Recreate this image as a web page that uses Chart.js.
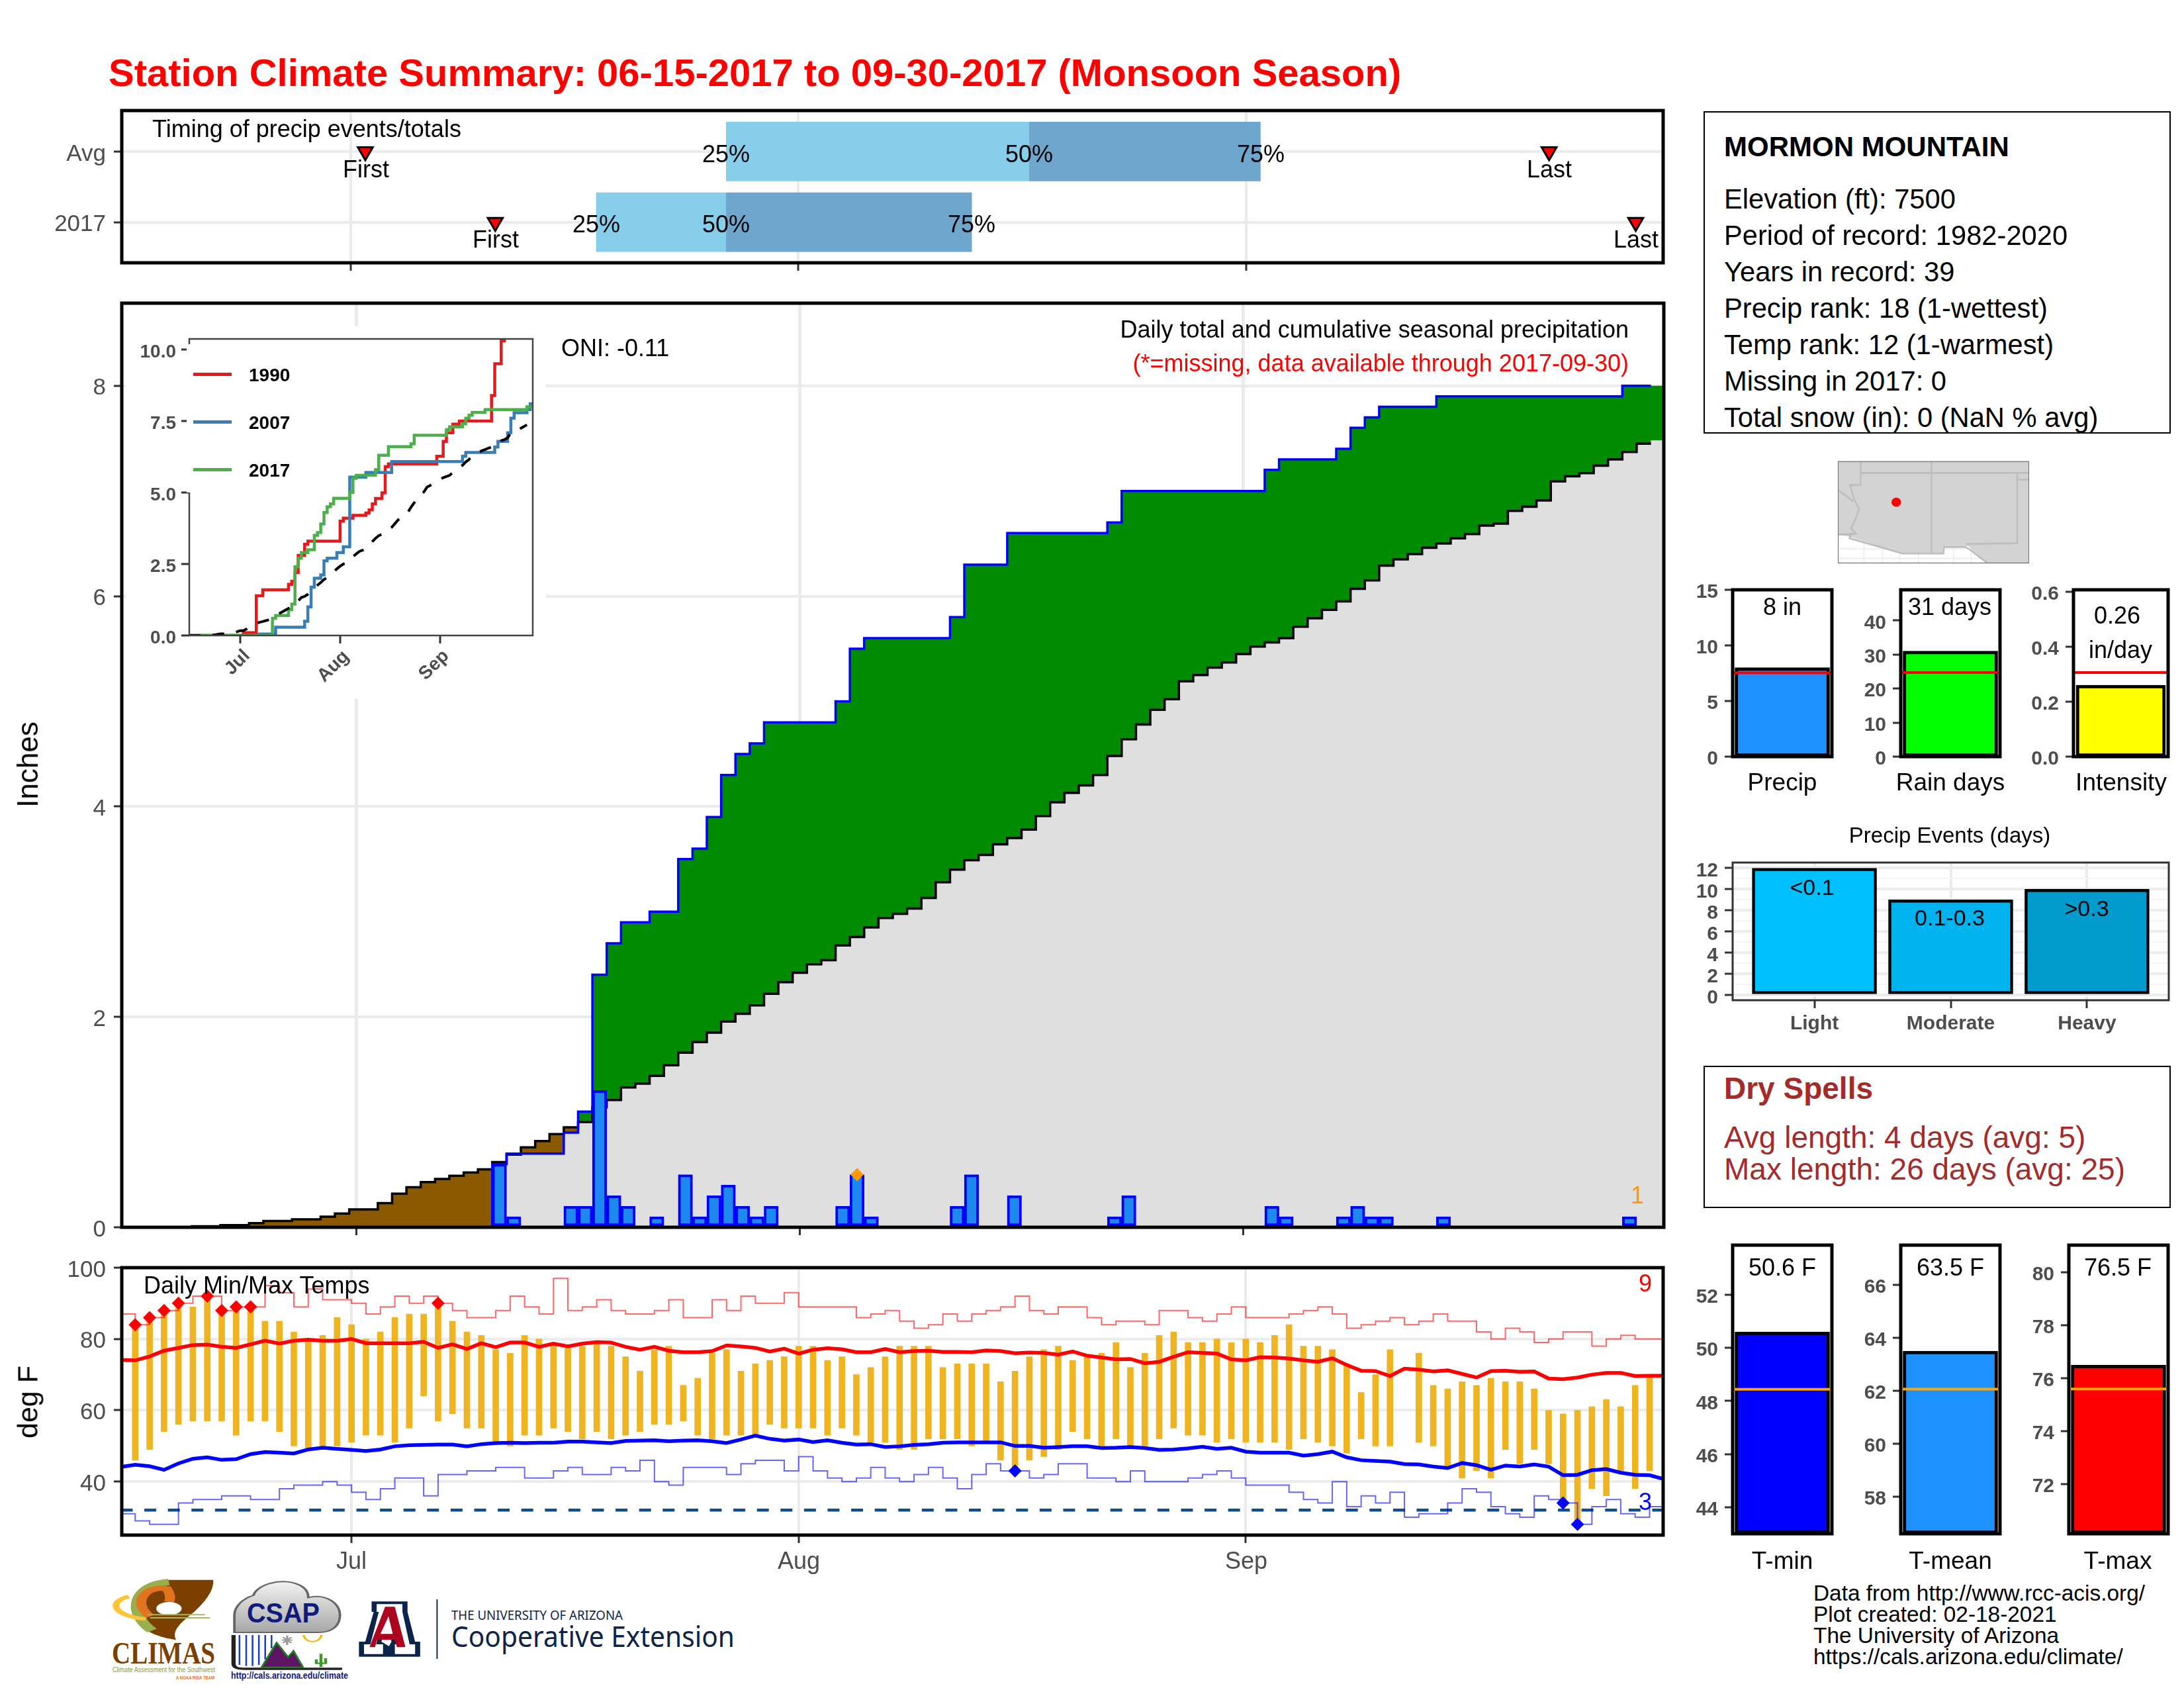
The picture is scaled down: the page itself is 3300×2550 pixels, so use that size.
<!DOCTYPE html>
<html>
<head>
<meta charset="utf-8">
<title>Station Climate Summary</title>
<script src="https://cdn.jsdelivr.net/npm/chart.js@4/dist/chart.umd.js"></script>
<style>
  html, body { margin: 0; background: #fff; width: 3300px; height: 2550px; overflow: hidden; }
  body { position: relative; font-family: 'Liberation Sans', sans-serif; }
  canvas, .txt, .box { position: absolute; }
  .txt { white-space: nowrap; line-height: 1; }
</style>
</head>
<body>
<svg width="3300" height="2550" style="position:absolute;left:0;top:0">
  <defs>
    <linearGradient id="cloud" x1="0" y1="0" x2="0" y2="1"><stop offset="0" stop-color="#f2f2f2"/><stop offset="1" stop-color="#a8a8a8"/></linearGradient>
  </defs>
  <!-- locator map -->
  <g transform="translate(2540,680) scale(.4847,.574)" fill="none" stroke="#bebebe" stroke-width="5" vector-effect="non-scaling-stroke">
    <rect x="490" y="30" width="594" height="267" fill="#fff" stroke="none"/>
    <path d="M490 260H1084M490 285H1084M570 225V297M628 225V297M682 225V297M740 225V297M850 250V297M905 260V297" stroke="#ececec" stroke-width="3"/>
    <path d="M490 30H1084V297H955L930 285L895 252L820 255V272H690L525 228L490 222Z" fill="#d3d3d3" stroke="none"/>
    <path d="M490 222H530L525 232L690 272H818L820 255H888L905 265L955 297"/>
    <path d="M560 30V92H527L540 130L555 155L545 180L530 205L545 220L490 222M490 105L537 135M560 60H1084M781 30V272M1048 60V245L888 247M1048 78H1084"/>
    <rect x="490" y="30" width="594" height="267" stroke="#666" stroke-width="2"/>
    <ellipse cx="671" cy="137" rx="15" ry="12" fill="#f00" stroke="none"/>
  </g>
  <!-- logos -->
  <g transform="translate(150,2340) scale(.638,.3333)">
    <path d="M150 140H270C272 190 250 240 225 285C195 330 170 370 182 412C140 400 100 370 88 320C70 240 95 170 150 140Z" fill="#7b3f00"/>
    <path d="M125 370C65 290 80 160 165 150" stroke="#9aae4e" stroke-width="28" fill="none"/>
    <path d="M120 305C75 240 110 165 160 180C170 210 168 230 165 240" stroke="#e2741f" stroke-width="24" fill="none"/>
    <ellipse cx="165" cy="270" rx="30" ry="30" fill="#fff"/>
    <path d="M70 215C20 240 30 300 110 318" stroke="#fdc533" stroke-width="16" fill="none"/>
    <path d="M115 298H250M120 312H262" stroke="#a6b85a" stroke-width="6" fill="none"/>
    <path d="M320 370V300C320 260 340 225 365 210C375 160 430 130 470 160C490 175 495 200 495 220C540 200 570 250 570 300C570 350 550 378 520 378H320Z" fill="url(#cloud)" stroke="#666" stroke-width="6"/>
    <path d="M332 390V525M348 390V530M363 390V530M378 390V525M393 390V500M408 390V450" stroke="#1a3fbf" stroke-width="4"/>
    <path d="M318 390V520C318 540 330 543 345 543H575" stroke="#222" stroke-width="10" fill="none"/>
    <path d="M385 535L420 425L447 490L460 462L482 535Z" fill="#5e1464" stroke="#1e7a1e" stroke-width="5"/>
    <path d="M484 390C488 430 522 430 526 390" stroke="#f5b915" stroke-width="6" fill="none"/>
    <path d="M445 392V435M432 413H458M435 400L455 426M455 400L435 426" stroke="#999" stroke-width="5"/>
    <path d="M525 475V535M514 500V518H536V495" stroke="#3b9a22" stroke-width="7" fill="none"/>
    <path d="M645 238H730V285L748 420H760V488H685V445L692 420L690 400H672L668 420L690 445V488H615V420H630L650 285H645Z" fill="#0c234b"/>
    <path d="M657 250H718V285L735 432H748V476H700V432H712L708 400H660L656 432H672V476H627V432H642L662 285H657Z" fill="#fff"/>
    <path d="M677 262H700L725 445H705L700 412H658L653 445H640ZM685 305L666 385H695Z" fill="#ab0520"/>
    <path d="M800 228V498" stroke="#0c234b" stroke-width="3"/>
  </g>
  <text x="169" y="2513" font-family="Liberation Serif" font-weight="bold" font-size="46" fill="#7b3f00" textLength="156" lengthAdjust="spacingAndGlyphs">CLIMAS</text>
  <text x="170" y="2526" font-family="Liberation Sans" font-size="10" fill="#8a9a4a" textLength="155" lengthAdjust="spacingAndGlyphs">Climate Assessment for the Southwest</text>
  <text x="266" y="2537" font-family="Liberation Sans" font-size="8" font-weight="bold" fill="#e2741f" textLength="58" lengthAdjust="spacingAndGlyphs">A NOAA RISA TEAM</text>
  <text x="373" y="2451" font-family="Liberation Sans" font-weight="bold" font-size="42" fill="#0f1a7a" textLength="110" lengthAdjust="spacingAndGlyphs">CSAP</text>
  <text x="349" y="2536" font-family="Liberation Sans" font-weight="bold" font-size="14" fill="#0f1a7a" textLength="177" lengthAdjust="spacingAndGlyphs">http://cals.arizona.edu/climate</text>
  <text x="682" y="2447" font-family="Noto Sans" font-size="19" fill="#0c234b" textLength="259" lengthAdjust="spacingAndGlyphs">THE UNIVERSITY OF ARIZONA</text>
  <text x="682" y="2488" font-family="Noto Sans" font-size="43" fill="#0c234b" textLength="428" lengthAdjust="spacingAndGlyphs">Cooperative Extension</text>
</svg>
<script>
// day 0 = Jun 15, day 107 = Sep 30
const monthTicks = [16, 47, 78];
const monthLabels = ['Jul', 'Aug', 'Sep'];

const precipDaily = [
  0,0,0,0,0,0,0,0,0,0,
  0,0,0,0,0,0,0,0,0,0,
  0,0,0,0,0,0,.6,.1,0,0,
  0,.2,.2,1.3,.3,.2,0,.1,0,.5,
  .1,.3,.4,.2,.1,.2,0,0,0,0,
  .2,.5,.1,0,0,0,0,0,.2,.5,
  0,0,.3,0,0,0,0,0,0,.1,
  .3,0,0,0,0,0,0,0,0,0,
  .2,.1,0,0,0,.1,.2,.1,.1,0,
  0,0,.1,0,0,0,0,0,0,0,
  0,0,0,0,0,.1,0,0];
const precipCum = [
  0,0,0,0,0,0,0,0,0,0,
  0,0,0,0,0,0,0,0,0,0,
  0,0,0,0,0,0,.6,.7,.7,.7,
  .7,.9,1.1,2.4,2.7,2.9,2.9,3,3,3.5,
  3.6,3.9,4.3,4.5,4.6,4.8,4.8,4.8,4.8,4.8,
  5,5.5,5.6,5.6,5.6,5.6,5.6,5.6,5.8,6.3,
  6.3,6.3,6.6,6.6,6.6,6.6,6.6,6.6,6.6,6.7,
  7,7,7,7,7,7,7,7,7,7,
  7.2,7.3,7.3,7.3,7.3,7.4,7.6,7.7,7.8,7.8,
  7.8,7.8,7.9,7.9,7.9,7.9,7.9,7.9,7.9,7.9,
  7.9,7.9,7.9,7.9,7.9,8,8,8];
const precipAvg = [
  0,0,0,0,0,.01,.01,.02,.02,.04,
  .06,.06,.075,.075,.1,.13,.17,.17,.23,.32,
  .38,.43,.46,.49,.52,.55,.62,.69,.76,.82,
  .885,.95,1,1.14,1.21,1.33,1.365,1.44,1.54,1.66,
  1.76,1.85,1.955,2.03,2.11,2.22,2.33,2.42,2.5,2.54,
  2.68,2.76,2.85,2.94,2.98,3.03,3.13,3.28,3.4,3.49,
  3.54,3.64,3.7,3.78,3.91,4.04,4.13,4.2,4.3,4.48,
  4.64,4.78,4.92,5.02,5.19,5.25,5.32,5.37,5.45,5.52,
  5.56,5.6,5.71,5.79,5.87,5.95,6.07,6.15,6.29,6.35,
  6.4,6.46,6.5,6.55,6.59,6.67,6.69,6.81,6.85,6.91,
  7.09,7.14,7.17,7.24,7.3,7.37,7.45,7.48];

const days1990 = [0,17,21,23,31,32,33,34,36,37,47,48,51,55,56,57,58,60,61,62,77,79,80,82,84,94,95,97,98,107];
const vals1990 = [0,.1,1.39,1.6,1.79,1.9,2.2,2.8,3.19,3.3,4,4.1,4.2,4.28,4.39,4.6,4.79,4.99,5.9,6,6.27,6.79,7.09,7.39,7.5,8.39,9.5,10.3,10.5,10.5];
const days2007 = [0,22,27,36,37,38,39,41,42,43,46,48,50,55,63,85,86,95,96,99,100,101,105,106,107];
const vals2007 = [0,.05,.29,.5,1,1.69,2,2.12,2.61,2.7,2.9,3.1,5.54,5.7,6.08,6.27,6.4,6.59,6.79,7.09,7.6,7.79,7.9,8.1,8.1];

const tempHigh = [
  null,84,86,88,90,89,92,88,89,89,
  85,85,82,80,81,86,84,80,82,86,
  87,87,90,85,82,81,77,76,81,80,
  79,78,78,79,78,75,71,77,78,67,
  69,76,77,71,73,74,75,78,78,74,
  75,70,72,75,78,78,78,72,73,73,
  73,68,71,75,77,78,74,75,76,79,
  72,76,81,82,79,79,80,79,80,79,
  81,84,78,78,77,73,65,70,77,null,
  76,67,66,68,67,69,68,68,66,60,
  59,60,61,63,61,67,70,null];
const tempLow = [
  null,46,49,54,56,57,57,57,53,57,
  57,54,50,49,50,50,51,53,53,51,
  55,64,57,59,55,55,51,50,53,53,
  55,54,52,54,52,53,54,56,56,57,
  53,52,53,53,53,56,55,55,55,53,
  55,53,51,51,49,49,52,52,52,50,
  51,46,43,46,47,49,54,52,50,52,
  50,50,52,55,53,53,51,52,51,51,
  51,49,52,51,50,48,52,50,50,null,
  51,50,44,41,43,41,49,45,49,45,
  34,28,38,36,43,38,43,null];
const recordHigh = [
  87,84,86,88,90,92,92,88,89,89,
  95,93,89,94,91,91,90,87,89,92,
  90,92,90,88,86,86,88,92,89,87,
  97,88,89,91,88,87,87,88,91,86,
  86,91,88,92,90,90,93,89,89,89,
  89,86,87,88,85,83,84,87,85,87,
  88,89,92,88,87,89,89,86,84,85,
  85,84,88,88,86,85,87,89,86,86,
  86,87,88,89,87,83,84,85,86,84,
  85,87,85,85,82,80,83,82,79,80,
  82,82,78,80,81,80,80,80];
const recordLow = [
  31,29,28,28,34,35,35,36,36,35,
  35,38,39,39,40,39,37,35,38,41,
  41,36,42,42,43,43,44,44,41,41,
  43,44,42,42,44,43,46,40,39,44,
  44,44,42,45,46,46,43,47,43,41,
  40,41,44,41,40,42,44,41,38,42,
  45,43,43,41,42,45,45,41,41,40,
  43,40,40,40,41,42,43,41,39,39,
  39,37,35,34,40,33,36,34,37,30,
  31,31,34,38,37,33,31,30,36,35,
  34,28,33,35,31,30,33,33];
const avgTmax = [
  74.1,74,75.1,76.7,77.5,78.3,78.4,77.8,77.5,78.5,
  79.5,78.7,79.5,79.8,79.5,79.5,80,78.8,78.8,78.8,
  78.8,79.2,77.5,78.5,77.2,78.8,77.7,79,79,77.8,
  78.7,77.9,78.7,79.1,79,77.8,77,77.8,76.7,76.3,
  76.3,76.6,78.2,77.9,77.5,76.5,77.3,75.9,77,77.4,
  77.1,76.3,76.3,77.2,76.3,76.6,76.7,76.4,76.4,76.3,
  76.8,76.6,76,76.2,76.1,75.6,76.5,75.3,74.8,74.3,
  74.4,73.2,73.6,75,76.3,76.1,75.9,74.3,74,74.9,
  74.8,74.5,74,73.6,74.6,72.7,71.1,71,69.6,71.7,
  71.4,70.9,71.2,70.2,69.2,71,71.1,70.8,70.9,68.9,
  68.7,69.2,70,70.5,70.5,69.6,69.7,69.7];
const avgTmin = [
  44.1,44.7,44.3,43.3,45.1,46.4,46.8,46.1,46.3,47.7,
  48.3,48.1,47.9,49,49.5,49.2,48.9,48.6,49,49.9,
  50.2,50.3,50.4,50.4,49.9,50.5,50.8,50.9,50.8,50.9,
  50.9,51.2,51.2,51,50.8,51.4,51.5,51.6,51.3,51.5,
  51.6,51.3,50.8,51.8,52.9,52,51.5,51.8,51.1,51.6,
  50.9,50.4,50.5,49.7,49.9,50.3,50.5,50.9,51,51,
  51,51,50,50,49.5,49.7,49.9,49.9,49.4,49.5,
  49.7,49.4,48.9,49,49.3,49.8,49.2,49.5,48.4,48.1,
  48.1,48.1,47.3,47.7,48.4,46.8,46,45.8,45.6,44.9,
  44.8,44.2,43.8,45.2,44.6,43.3,44.5,44.2,44.8,44.2,
  41.8,41.9,43.2,43.5,42.5,41.9,41.8,40.7];
const hotDays = [1,2,3,4,6,7,8,9,22];
const coldDays = [62,100,101];
const wettestDays = [51];

const timingRows = [2, 1];
const timingLabels = ['2017', 'Avg'];
const q25 = [42, 33];
const q50 = [63, 42];
const q75 = [79, 59];
const firstDay = [17, 26];
const lastDay = [99, 105];

const eventNames = ['Light', 'Moderate', 'Heavy'];
const eventDays = [12, 9, 10];

const GRID = '#ebebeb', TICK = '#333333', INK = '#4d4d4d';
Chart.defaults.font.family = "'Liberation Sans', sans-serif";
Chart.defaults.animation = false;

// panel frame drawn on top of the datasets
const frame = {
  id: 'frame',
  afterDraw(chart, args, opts) {
    const a = chart.chartArea, c = chart.ctx;
    c.save();
    c.strokeStyle = opts.color || '#000';
    c.lineWidth = opts.width || 5;
    c.strokeRect(a.left, a.top, a.right - a.left, a.bottom - a.top);
    c.restore();
  }
};

function txt(s, x, y, o = {}) {
  const d = document.createElement('div');
  d.className = 'txt';
  d.textContent = s;
  const shift = o.align === 'center' ? '-50%' : o.align === 'right' ? '-100%' : '0';
  d.style.cssText = `left:${x}px;top:${y}px;font-size:${o.size || 36}px;color:${o.color || '#000'};` +
    `font-weight:${o.bold ? 'bold' : 'normal'};transform:translate(${shift},-50%) rotate(${o.rotate || 0}deg);`;
  document.body.appendChild(d);
}

function rect(x, y, w, h, style) {
  const d = document.createElement('div');
  d.className = 'box';
  d.style.cssText = `left:${x}px;top:${y}px;width:${w}px;height:${h}px;${style}`;
  document.body.appendChild(d);
}

function axis(min, max, values, o = {}) {
  return {
    type: 'linear', min, max, offset: false,
    afterBuildTicks: s => { s.ticks = values.map(v => ({ value: v })); },
    grid: {
      offset: false,
      color: o.gridColor || GRID, lineWidth: o.gridWidth === undefined ? 4 : o.gridWidth,
      drawOnChartArea: o.gridWidth !== 0,
      tickColor: o.tickColor || TICK, tickWidth: 3, tickLength: 12
    },
    border: { display: false },
    ticks: {
      display: o.labels !== false, autoSkip: false, maxRotation: 0, padding: o.pad || 12,
      color: INK, font: { size: o.size || 35, weight: o.bold ? 'bold' : 'normal' },
      callback: o.fmt || (v => String(v))
    }
  };
}

// canvas placed so that the plot area lands exactly on L,T,R,B
function panel(L, T, R, B, gutterL, gutterB, xAxis, yAxis, datasets, frameOpts) {
  const pad = 36;
  const cv = document.createElement('canvas');
  cv.width = R - L + gutterL + pad;
  cv.height = B - T + gutterB + pad;
  cv.style.left = (L - gutterL) + 'px';
  cv.style.top = (T - pad) + 'px';
  document.body.appendChild(cv);
  xAxis.afterFit = s => { s.height = gutterB; };
  yAxis.afterFit = s => { s.width = gutterL; };
  yAxis.ticks.labelOffset = 4;
  return new Chart(cv, {
    type: 'line',
    data: { datasets },
    options: {
      responsive: false, devicePixelRatio: 1,
      layout: { padding: { top: pad, right: pad, left: 0, bottom: 0 } },
      scales: { x: xAxis, y: yAxis },
      elements: { point: { radius: 0 } },
      plugins: { legend: { display: false }, tooltip: { enabled: false }, frame: frameOpts || {} }
    },
    plugins: [frame]
  });
}

const pts = (ys, from = 0) => ys.map((y, i) => ({ x: i + from, y }));

// ---- timing strip
panel(184, 167, 2513, 397, 184, 40,
  axis(0.13, 106.9, monthTicks, { labels: false }),
  axis(0.425, 2.58, timingRows, { fmt: v => timingLabels[v - 1] }),
  [
    { type: 'scatter', data: timingRows.map((y, i) => ({ x: firstDay[i], y })), pointStyle: 'triangle', rotation: 180, radius: 13, backgroundColor: '#f00', borderColor: '#000', borderWidth: 3 },
    { type: 'scatter', data: timingRows.map((y, i) => ({ x: lastDay[i], y })), pointStyle: 'triangle', rotation: 180, radius: 13, backgroundColor: '#f00', borderColor: '#000', borderWidth: 3 },
    { type: 'bar', indexAxis: 'y', grouped: false, barThickness: 89, backgroundColor: '#6fa6cd', data: timingRows.map((y, i) => ({ x: [q50[i], q75[i]], y })) },
    { type: 'bar', indexAxis: 'y', grouped: false, barThickness: 89, backgroundColor: '#87ceeb', data: timingRows.map((y, i) => ({ x: [q25[i], q50[i]], y })) }
  ]);

// ---- cumulative precipitation
const fillEnd = (ys) => [{ x: -0.4, y: 0 }, ...pts(ys), { x: 107.4, y: ys[107] }];
const lineEnd = (ys) => [...pts(ys.slice(0, 107)), { x: 106.5, y: ys[106] }];
panel(184, 458, 2514, 1854, 184, 40,
  axis(-0.4, 107.4, monthTicks, { labels: false, gridWidth: 5 }),
  axis(0, 8.785, [0, 2, 4, 6, 8]),
  [
    { type: 'scatter', data: wettestDays.map(d => ({ x: d, y: precipDaily[d] })), pointStyle: 'rectRot', radius: 10, backgroundColor: '#ff9900', borderWidth: 0 },
    { type: 'bar', barThickness: 21.6, backgroundColor: '#1e88f0', borderColor: '#0000ff', borderWidth: 4, borderSkipped: false,
      data: precipDaily.map((y, x) => ({ x, y: y > 0 ? y : null })) },
    { data: lineEnd(precipCum), stepped: 'middle', borderColor: '#0000ff', borderWidth: 3.5, fill: false },
    { data: lineEnd(precipAvg), stepped: 'middle', borderColor: '#000', borderWidth: 3.5, fill: false },
    { data: fillEnd(precipCum), stepped: 'middle', borderWidth: 0, borderColor: 'transparent', fill: { target: 5, above: '#008b00', below: '#8b5a00' } },
    { data: fillEnd(precipAvg), stepped: 'middle', borderWidth: 0, borderColor: 'transparent', fill: { target: 'origin', above: '#dfdfdf', below: '#dfdfdf' } }
  ]);

// ---- inset with analog years
rect(190, 493, 635, 562, 'background:#fff;');
panel(286, 512, 805, 960, 96, 40,
  axis(0.2, 106.8, monthTicks, { labels: false, gridWidth: 0 }),
  axis(0, 10.37, [0, 2.5, 5, 7.5, 10], { gridWidth: 0, size: 28, bold: true, pad: 8, fmt: v => v.toFixed(1) }),
  [
    { data: pts(precipAvg.slice(0, 106)), borderColor: '#000', borderWidth: 4, borderDash: [18, 18], fill: false },
    { data: pts(precipCum), stepped: true, borderColor: '#4daf4a', borderWidth: 4.5, fill: false },
    { data: days2007.map((x, i) => ({ x, y: vals2007[i] })), stepped: true, borderColor: '#377eb8', borderWidth: 4.5, fill: false },
    { data: days1990.map((x, i) => ({ x, y: vals1990[i] })), stepped: true, borderColor: '#e41a1c', borderWidth: 4.5, fill: false }
  ], { color: '#444', width: 2.5 });
rect(282, 520, 7, 224, 'background:#fff;');

// ---- daily temperatures
panel(184, 1915, 2513, 2319, 184, 40,
  axis(0.07, 106.94, monthTicks, { labels: false }),
  axis(25, 100, [40, 60, 80, 100]),
  [
    { type: 'scatter', data: hotDays.map(d => ({ x: d, y: tempHigh[d] })), pointStyle: 'rectRot', radius: 10, backgroundColor: '#f00', borderWidth: 0 },
    { type: 'scatter', data: coldDays.map(d => ({ x: d, y: tempLow[d] })), pointStyle: 'rectRot', radius: 10, backgroundColor: '#00f', borderWidth: 0 },
    { data: pts(avgTmax), borderColor: '#f00', borderWidth: 5.5, fill: false },
    { data: pts(avgTmin), borderColor: '#00f', borderWidth: 5.5, fill: false },
    { data: pts(recordHigh), stepped: true, borderColor: 'rgba(255,0,0,.6)', borderWidth: 2, fill: false },
    { data: pts(recordLow), stepped: true, borderColor: 'rgba(0,0,255,.6)', borderWidth: 2, fill: false },
    { data: [{ x: 0, y: 32 }, { x: 107, y: 32 }], borderColor: '#104e8b', borderWidth: 4.5, borderDash: [18, 17.6], fill: false },
    { type: 'bar', barThickness: 9, backgroundColor: '#eeb422',
      data: tempHigh.map((h, x) => ({ x, y: h === null ? null : [tempLow[x], h] })) }
  ]);

// ---- small seasonal bars
function gauge(L, R, T, B, min, max, ticks, value, avg, fill, lineColor, bw, fmt) {
  panel(L, T, R, B, 90, 40,
    axis(0.5, 1.5, [], { labels: false, gridWidth: 0 }),
    axis(min, max, ticks, { gridWidth: 0, size: 30, bold: true, pad: 10, fmt }),
    [
      { data: [{ x: 0.5, y: avg }, { x: 1.5, y: avg }], borderColor: lineColor, borderWidth: 4, fill: false },
      { type: 'bar', barThickness: bw, base: min, backgroundColor: fill, borderColor: '#000', borderWidth: 5, borderSkipped: false, data: [{ x: 1, y: value }] }
    ]);
}
gauge(2618, 2768, 891, 1143, 0, 15, [0, 5, 10, 15], 8, 7.53, '#1e90ff', '#f00', 143);
gauge(2872, 3022, 891, 1143, 0, 49, [0, 10, 20, 30, 40], 31, 24.7, '#00ff00', '#f00', 143);
gauge(3133, 3276, 891, 1143, 0, 0.607, [0, 0.2, 0.4, 0.6], 0.26, 0.306, '#ffff00', '#f00', 135, v => v.toFixed(1));
gauge(2618, 2768, 1881, 2317, 43, 53.87, [44, 46, 48, 50, 52], 50.6, 48.44, '#0000ff', '#ffa500', 143);
gauge(2872, 3022, 1881, 2317, 56.6, 67.5, [58, 60, 62, 64, 66], 63.5, 62.06, '#1e90ff', '#ffa500', 143);
gauge(3126, 3276, 1881, 2317, 70.13, 81.03, [72, 74, 76, 78, 80], 76.5, 75.6, '#ff0000', '#ffa500', 143);

// ---- precip events
const eventX = axis(0.4, 3.6, [1, 2, 3], { size: 30, bold: true, pad: 6, fmt: v => eventNames[v - 1] });
const eventY = axis(-0.48, 12.53, [0,1,2,3,4,5,6,7,8,9,10,11,12], { size: 30, bold: true, pad: 10, fmt: v => v % 2 ? '' : String(v) });
eventY.grid.color = c => c.tick.value % 2 ? '#f5f5f5' : GRID;
eventY.grid.lineWidth = c => c.tick.value % 2 ? 2 : 4;
eventY.grid.tickColor = c => c.tick.value % 2 ? 'transparent' : TICK;
panel(2618, 1303, 3277, 1511, 90, 70, eventX, eventY, [
  { type: 'bar', barThickness: 188, borderColor: '#000', borderWidth: 4.5, borderSkipped: false,
    backgroundColor: ['#00bfff', '#00b2ee', '#009acd'],
    data: eventDays.map((y, i) => ({ x: i + 1, y })) }
], { color: '#333', width: 3 });

// ---- text
txt('Station Climate Summary: 06-15-2017 to 09-30-2017 (Monsoon Season)', 164, 110, { size: 58, bold: true, color: '#f00' });

txt('Timing of precip events/totals', 230, 195);
[['First', 553, 256], ['25%', 1097, 233], ['50%', 1555, 233], ['75%', 1905, 233], ['Last', 2341, 256],
 ['First', 749, 362], ['25%', 901, 339], ['50%', 1097, 339], ['75%', 1468, 339], ['Last', 2472, 362]]
  .forEach(t => txt(t[0], t[1], t[2], { align: 'center' }));

txt('ONI: -0.11', 848, 526);
txt('Daily total and cumulative seasonal precipitation', 2461, 498, { align: 'right' });
txt('(*=missing, data available through 2017-09-30)', 2461, 549, { align: 'right', color: '#f00' });
txt('1', 2474, 1806, { align: 'center', color: '#ff9900' });
txt('Inches', 42, 1155, { align: 'center', size: 44, rotate: -90 });
txt('deg F', 42, 2118, { align: 'center', size: 43, rotate: -90 });

[['#e41a1c', 565, '1990'], ['#377eb8', 637, '2007'], ['#4daf4a', 709, '2017']].forEach(k => {
  rect(292, k[1] - 2.5, 58, 5, `background:${k[0]};`);
  txt(k[2], 376, k[1] + 2, { size: 28, bold: true });
});
[['Jul', 358, 1000], ['Aug', 503, 1006], ['Sep', 655, 1004]].forEach(m => txt(m[0], m[1], m[2], { align: 'center', size: 28, bold: true, color: INK, rotate: -45 }));

txt('Daily Min/Max Temps', 217, 1942);
txt('9', 2486, 1939, { align: 'center', color: '#f00' });
txt('3', 2486, 2269, { align: 'center', color: '#00f' });
monthLabels.forEach((m, i) => txt(m, [531, 1207, 1883][i], 2358, { align: 'center', color: INK }));

// station box
rect(2574, 168, 702, 483, 'border:2px solid #000;');
txt('MORMON MOUNTAIN', 2605, 222, { size: 42, bold: true });
['Elevation (ft): 7500', 'Period of record: 1982-2020', 'Years in record: 39', 'Precip rank: 18 (1-wettest)',
 'Temp rank: 12 (1-warmest)', 'Missing in 2017: 0', 'Total snow (in): 0 (NaN % avg)']
  .forEach((s, i) => txt(s, 2605, 301 + i * 55, { size: 41.7 }));

// gauge captions
txt('8 in', 2693, 917, { align: 'center' });
txt('31 days', 2946, 917, { align: 'center' });
txt('0.26', 3199, 930, { align: 'center' });
txt('in/day', 3204, 982, { align: 'center' });
txt('Precip', 2693, 1181, { align: 'center', size: 37 });
txt('Rain days', 2947, 1181, { align: 'center', size: 37 });
txt('Intensity', 3205, 1181, { align: 'center', size: 37 });

txt('Precip Events (days)', 2946, 1261, { align: 'center', size: 33 });
txt('<0.1', 2738, 1340, { align: 'center', size: 34 });
txt('0.1-0.3', 2946, 1386, { align: 'center', size: 34 });
txt('>0.3', 3153, 1372, { align: 'center', size: 34 });

// dry spells
rect(2574, 1610, 702, 211, 'border:2px solid #000;');
txt('Dry Spells', 2605, 1644, { size: 46, bold: true, color: '#a52a2a' });
txt('Avg length: 4 days (avg: 5)', 2605, 1718, { size: 46, color: '#a52a2a' });
txt('Max length: 26 days (avg: 25)', 2605, 1766, { size: 46, color: '#a52a2a' });

txt('50.6 F', 2693, 1915, { align: 'center' });
txt('63.5 F', 2947, 1915, { align: 'center' });
txt('76.5 F', 3200, 1915, { align: 'center' });
txt('T-min', 2693, 2357, { align: 'center', size: 37 });
txt('T-mean', 2947, 2357, { align: 'center', size: 37 });
txt('T-max', 3200, 2357, { align: 'center', size: 37 });

['Data from http://www.rcc-acis.org/', 'Plot created: 02-18-2021', 'The University of Arizona', 'https://cals.arizona.edu/climate/']
  .forEach((s, i) => txt(s, 2740, 2407 + i * 32, { size: 33.4 }));
</script>
</body>
</html>
